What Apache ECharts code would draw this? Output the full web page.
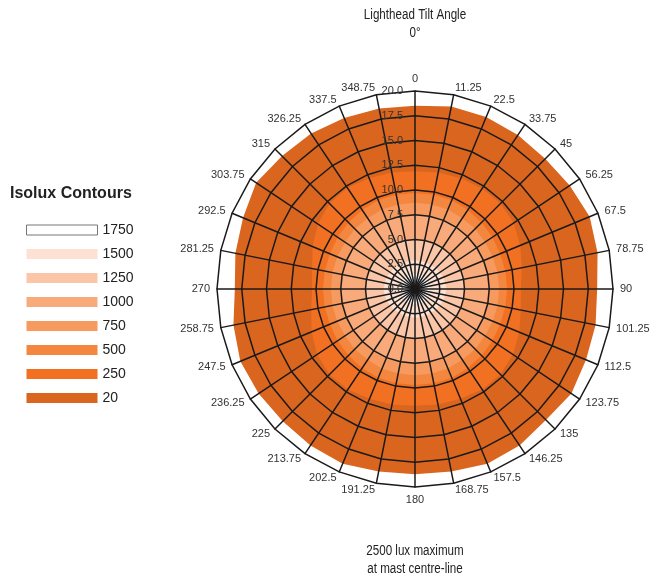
<!DOCTYPE html>
<html>
<head>
<meta charset="utf-8">
<script src="https://cdn.jsdelivr.net/npm/echarts@6/dist/echarts.min.js"></script>
<style>
html,body{margin:0;padding:0;background:#fff;}
#chart{width:652px;height:580px;}
</style>
</head>
<body>
<div id="chart"></div>
<script>
// Angle categories (clockwise from top)
var categories = ['0','11.25','22.5','33.75','45','56.25','67.5','78.75','90','101.25','112.5','123.75','135','146.25','157.5','168.75','180','191.25','202.5','213.75','225','236.25','247.5','258.75','270','281.25','292.5','303.75','315','326.25','337.5','348.75'];
var radiusMax = 20;

// Isolux contour levels and colours
var levels = ['20','250','500','750','1000','1250','1500','1750'];
var levelColors = ['#d9651f','#f27021','#f4873f','#f69a5f','#f8aa7a','#fbc6a7','#fde1d2','#ffffff'];

// Contour radii (m) at each angle category
var contour20   = [18.5,18.8,18.8,18.7,18.6,18.8,19.1,18.8,18.4,18.6,18.7,19.0,18.7,19.0,19.1,18.8,18.7,18.8,19.1,19.0,18.9,19.0,19.1,18.7,18.2,18.5,18.8,19.3,19.0,18.9,18.7,18.6];
var contour250  = [11.9,12.0,12.1,12.2,12.2,12.0,11.5,11.0,10.7,10.9,11.4,11.9,12.2,12.2,12.0,11.9,11.8,11.9,12.0,12.2,12.2,11.9,11.3,10.7,10.4,10.6,11.2,11.8,12.2,12.3,12.1,12.0];
var contour500  = [9.7,9.7,9.7,9.6,9.5,9.4,9.3,9.3,9.3,9.3,9.3,9.4,9.5,9.6,9.7,9.7,9.7,9.7,9.7,9.6,9.5,9.4,9.3,9.3,9.3,9.3,9.3,9.4,9.5,9.6,9.7,9.7];
var contour750  = [8.7,8.7,8.7,8.6,8.6,8.5,8.5,8.5,8.5,8.5,8.5,8.5,8.6,8.6,8.7,8.7,8.7,8.7,8.7,8.6,8.6,8.5,8.5,8.5,8.5,8.5,8.5,8.5,8.6,8.6,8.7,8.7];
var contour1000 = [7.5,7.5,7.5,7.5,7.4,7.4,7.4,7.4,7.4,7.4,7.4,7.4,7.4,7.5,7.5,7.5,7.5,7.5,7.5,7.5,7.4,7.4,7.4,7.4,7.4,7.4,7.4,7.4,7.4,7.5,7.5,7.5];
var contour1250 = [5.0,5.0,5.0,5.0,5.0,5.0,5.0,5.0,5.0,5.0,5.0,5.0,5.0,5.0,5.0,5.0,5.0,5.0,5.0,5.0,5.0,5.0,5.0,5.0,5.0,5.0,5.0,5.0,5.0,5.0,5.0,5.0];
var contour1500 = [2.9,2.9,2.9,2.9,3.0,3.0,3.1,3.1,3.2,3.1,3.1,3.0,3.0,2.9,2.9,2.9,2.9,2.9,2.9,2.9,3.0,3.0,3.1,3.1,3.2,3.1,3.1,3.0,3.0,2.9,2.9,2.9];
var contour1750 = [1.5,1.5,1.5,1.5,1.5,1.5,1.5,1.5,1.5,1.5,1.5,1.5,1.5,1.5,1.5,1.5,1.5,1.5,1.5,1.5,1.5,1.5,1.5,1.5,1.5,1.5,1.5,1.5,1.5,1.5,1.5,1.5];
var contours = [contour20,contour250,contour500,contour750,contour1000,contour1250,contour1500,contour1750];

// Title texts
var titleLines = ['Lighthead Tilt Angle', '0°'];
var footLines = ['2500 lux maximum', 'at mast centre-line'];
var legendTitle = 'Isolux Contours';

// ECharts radar lays indicators counter-clockwise, so reorder to get clockwise
var n = categories.length;
var order = [];
for (var i = 0; i < n; i++) order.push((n - i) % n);

var indicators = order.map(function (k, i) {
  var ind = {name: categories[k], min: 0, max: radiusMax};
  if (i === 0) {
    ind.axisLabel = {show: true, color: '#333', fontSize: 11, margin: 12,
      fontFamily: 'Liberation Sans, Arial, sans-serif',
      formatter: function (v) { return Number(v).toFixed(1); }};
  }
  return ind;
});

var seriesData = levels.map(function (lv, li) {
  return {
    name: lv,
    value: order.map(function (k) { return contours[li][k]; }),
    areaStyle: {color: levelColors[li], opacity: 1},
    lineStyle: {width: 0, opacity: 0},
    itemStyle: {color: levelColors[li]}
  };
});

var legendData = levels.slice().reverse().map(function (lv) {
  var c = levelColors[levels.indexOf(lv)];
  return {
    name: lv, icon: 'rect',
    itemStyle: lv === '1750' ? {color: '#ffffff', borderColor: '#777', borderWidth: 1} : {color: c, borderWidth: 0}
  };
});

var narrowFont = '14px "Liberation Sans", Arial, sans-serif';
function narrowText(str, x, y) {
  return {type: 'text', x: x, y: y, scaleX: 0.83, scaleY: 1, silent: true,
    style: {text: str, font: narrowFont, fill: '#222', align: 'center', verticalAlign: 'middle'}};
}

var chart = echarts.init(document.getElementById('chart'));
chart.setOption({
  animation: false,
  backgroundColor: '#fff',
  graphic: [
    narrowText(titleLines[0], 415, 15),
    narrowText(titleLines[1], 415, 33),
    narrowText(footLines[0], 415, 551),
    narrowText(footLines[1], 415, 569),
    {type: 'text', x: 10, y: 194, silent: true,
     style: {text: legendTitle, font: 'bold 16px "Liberation Sans", Arial, sans-serif', fill: '#222', align: 'left', verticalAlign: 'middle'}}
  ],
  legend: {
    orient: 'vertical', left: 26, top: 223, padding: 0,
    itemWidth: 71, itemHeight: 10, itemGap: 10,
    selectedMode: false,
    textStyle: {fontFamily: 'Liberation Sans, Arial, sans-serif', fontSize: 14, color: '#222', padding: [0, 0, 0, 0]},
    data: legendData
  },
  radar: {
    center: [415, 289], radius: 198, startAngle: 90,
    shape: 'polygon', splitNumber: 8, z: 10,
    indicator: indicators,
    nameGap: 7,
    axisName: {color: '#333', fontSize: 11, fontFamily: 'Liberation Sans, Arial, sans-serif'},
    splitLine: {lineStyle: {color: '#1a1a1a', width: 1.5}},
    splitArea: {show: false},
    axisLine: {lineStyle: {color: '#1a1a1a', width: 1.5}},
    axisTick: {show: false},
    axisLabel: {show: false}
  },
  series: [{
    type: 'radar', z: 2, symbol: 'none', silent: true,
    data: seriesData
  }]
});
</script>
</body>
</html>
